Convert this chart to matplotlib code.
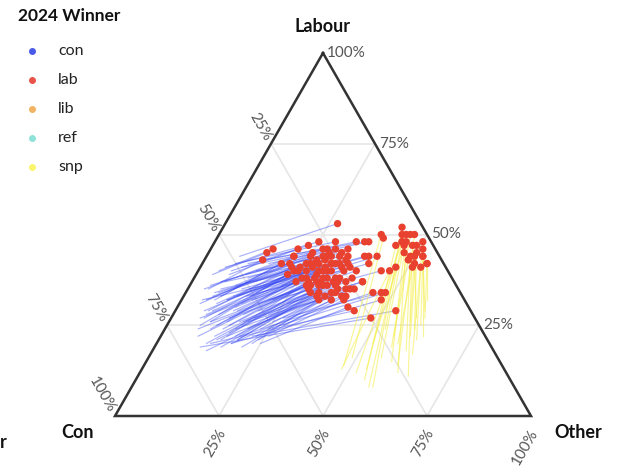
import numpy as np
import matplotlib
matplotlib.use("Agg")
import matplotlib.pyplot as plt
from matplotlib.lines import Line2D

plt.rcParams['font.family'] = ['Lato', 'DejaVu Sans']

# ---- Seats won by Labour in 2024 that were Conservative in 2019 (vote shares, %) ----
con_seat_lab24 = [53,48,48,48,45,46,44,47,45,46,46,45,46,44,44,44,44,44,43,42,42,42,42,41,41,41,41,39,40,40,
                  40,40,40,38,38,38,38,38,37,37,37,37,36,36,35,35,34,34,33,32,32,33,30,40,48,48,44,44,44,42,
                  40,37,37,35,34,34,34,32,29,29,27,46,43,42,42,36,33,38,42,37,40,42,43,39,36,36,35,32,45,43,
                  44,35,33,42,42,36,38,40,41,34,41,46,37,35,42,38,37,40,34,44]
con_seat_con24 = [20,27,23,18,41,39,35,30,30,26,24,23,21,31,28,27,24,22,43,37,30,27,23,35,32,29,25,39,37,34,
                  31,28,25,36,33,31,28,24,35,32,29,26,35,32,29,26,34,31,29,32,29,28,29,22,16,15,18,17,15,18,
                  16,22,22,25,21,19,18,20,28,18,25,33,30,33,26,31,35,27,39,38,30,32,28,32,29,36,29,35,26,23,
                  35,36,33,31,25,33,30,36,23,30,37,27,33,27,27,35,28,29,36,26]
con_seat_lab19 = [44,41,42,42,39,40,35,40,36,41,37,40,39,32,34,35,37,33,35,31,29,32,35,27,28,31,33,25,26,26,
                  29,22,32,24,25,28,21,29,23,20,25,27,21,22,24,26,21,22,20,21,22,25,20,31,43,42,35,37,36,33,
                  32,27,31,26,22,27,24,20,20,22,19,39,33,31,28,19,18,21,32,27,29,34,37,25,26,24,24,24,38,35,
                  33,22,20,29,33,27,26,32,32,19,29,36,24,22,35,30,28,32,26,34]
con_seat_con19 = [48,53,50,47,57,55,61,52,59,49,56,46,49,62,58,54,48,54,60,64,62,57,47,65,61,54,51,67,64,60,
                  56,69,47,65,60,55,65,51,61,68,57,50,64,60,56,49,60,55,62,55,52,47,55,50,43,42,50,44,42,52,
                  46,53,43,55,59,46,51,62,67,56,70,53,60,60,64,65,69,60,60,66,57,59,55,63,56,62,53,59,49,52,
                  58,65,57,64,55,59,64,57,51,60,63,53,68,62,57,56,49,63,57,49]

# ---- Seats won by Labour in 2024 that were SNP in 2019 (vote shares, %) ----
snp_seat_lab24 = [52,50,50,50,50,48,48,48,47,47,47,46,45,44,45,44,44,44,43,42,42,42,41,41,50,49,41,40,47,48]
snp_seat_con24 = [5,5,6,4,3,7,7,6,5,7,4,3,8,7,5,6,4,4,8,4,4,7,6,8,11,11,12,14,9,2]
snp_seat_lab19 = [8,16,13,19,14,12,24,12,11,20,22,22,15,18,24,26,29,25,22,32,27,27,21,20,14,16,8,13,10,17]
snp_seat_con19 = [34,28,33,24,25,36,23,26,24,28,18,15,26,21,16,16,11,14,22,9,12,14,17,22,38,35,35,39,35,20]

legend_names = ['con', 'lab', 'lib', 'ref', 'snp']
legend_colors = ['#4a5ae8', '#e8544c', '#f2b462', '#8fe2d8', '#fbf56c']
ticks = [0.25, 0.5, 0.75, 1.0]
tick_labels = ['25%', '50%', '75%', '100%']

H = np.sqrt(3) / 2


def tern(lab, con):
    lab = np.asarray(lab, float) / 100.0
    con = np.asarray(con, float) / 100.0
    oth = 1.0 - lab - con
    return oth + lab / 2.0, lab * H


def tern_f(lab, con):
    oth = 1.0 - lab - con
    return oth + lab / 2.0, lab * H


W, Hpx = 619, 467
fig = plt.figure(figsize=(W / 100, Hpx / 100), dpi=100)
ax = fig.add_axes([0, 0, 1, 1])
sx = 416.0           # pixels per unit (x)
sy = 363.0 / H       # pixels per unit (y)
x0, ybase = 115.0, 416.0
ax.set_xlim(-x0 / sx, (W - x0) / sx)
ax.set_ylim(-(Hpx - ybase) / sy, ybase / sy)
ax.axis('off')


def px(dx, dy):
    return dx / sx, dy / sy


# grid
grid_c = '#e6e6e6'
for v in [0.25, 0.5, 0.75]:
    for (a, b) in [((v, 1 - v), (v, 0)),            # Labour const
                   ((1 - v, v), (0, v)),            # Con const
                   ((0, 1 - v), (1 - v, 0))]:       # Other const
        xa, ya = tern_f(*a)
        xb, yb = tern_f(*b)
        ax.plot([xa, xb], [ya, yb], color=grid_c, lw=1.2, zorder=1, solid_capstyle='butt')

# triangle border
bx, by = zip(*[tern_f(1, 0), tern_f(0, 1), tern_f(0, 0), tern_f(1, 0)])
ax.plot(bx, by, color='#333333', lw=1.8, zorder=5, solid_joinstyle='miter')

# lines 2019 -> 2024
cx19, cy19 = tern(con_seat_lab19, con_seat_con19)
cx24, cy24 = tern(con_seat_lab24, con_seat_con24)
for a, b, c, d in zip(cx19, cx24, cy19, cy24):
    ax.plot([a, b], [c, d], color='#3546f2', lw=0.85, alpha=0.42, zorder=2)

sx19, sy19 = tern(snp_seat_lab19, snp_seat_con19)
sx24, sy24 = tern(snp_seat_lab24, snp_seat_con24)
for a, b, c, d in zip(sx19, sx24, sy19, sy24):
    ax.plot([a, b], [c, d], color='#f5ee45', lw=0.85, alpha=0.55, zorder=2)

# 2024 points (all Labour winners)
ax.scatter(np.concatenate([cx24, sx24]), np.concatenate([cy24, sy24]),
           s=28, color='#e8412f', edgecolors='none', zorder=4)

tick_c = '#555555'
tfs = 11
# right edge: Labour
for v, t in zip(ticks, tick_labels):
    x, y = tern_f(v, 0)
    dx, dy = px(4, 0)
    ax.text(x + dx, y + dy, t, ha='left', va='center', color=tick_c, fontsize=tfs, zorder=6)
# left edge: Con
for v, t in zip(ticks, tick_labels):
    x, y = tern_f(1 - v, v)
    dx, dy = px(-3, 4)
    ax.text(x + dx, y + dy, t, ha='right', va='center', rotation=-60, rotation_mode='anchor',
            color=tick_c, fontsize=tfs, zorder=6)
# bottom edge: Other
for v, t in zip(ticks, tick_labels):
    x, y = tern_f(0, 1 - v)
    dx, dy = px(4, -14)
    ax.text(x + dx, y + dy, t, ha='right', va='center', rotation=60, rotation_mode='anchor',
            color=tick_c, fontsize=tfs, zorder=6)

# vertex titles
tx, ty = tern_f(1, 0)
ax.text(tx, ty + px(0, 27)[1], 'Labour', ha='center', va='center', fontsize=13,
        fontweight='bold', color='#111111')
fig.text(77 / W, 1 - 432 / Hpx, 'Con', ha='center', va='center', fontsize=13, fontweight='bold', color='#111111')
fig.text(578 / W, 1 - 432 / Hpx, 'Other', ha='center', va='center', fontsize=13, fontweight='bold', color='#111111')
fig.text(0 / W, 1 - 442 / Hpx, 'r', ha='left', va='center', fontsize=13, fontweight='bold', color='#111111')

# legend
fig.text(18 / W, 1 - 16 / Hpx, '2024 Winner', ha='left', va='center', fontsize=12.5,
         fontweight='bold', color='#111111')
for i, (n, c) in enumerate(zip(legend_names, legend_colors)):
    yy = 1 - (51 + 29 * i) / Hpx
    fig.add_artist(Line2D([32 / W], [yy], marker='o', markersize=4, color=c, ls='',
                          transform=fig.transFigure))
    fig.text(58 / W, yy, n, ha='left', va='center', fontsize=11.5, color='#222222')

fig.savefig('out.png', dpi=100)
